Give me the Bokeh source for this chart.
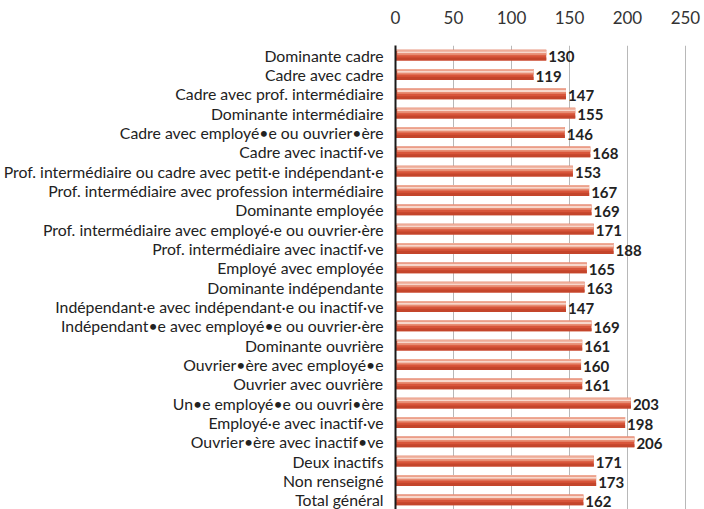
from bokeh.plotting import figure
from bokeh.models import ColumnDataSource, FactorRange, Range1d, FixedTicker
from bokeh.transform import dodge
from bokeh.core.properties import value
from bokeh.embed import file_html
from bokeh.resources import INLINE

categories = [
    "Dominante cadre",
    "Cadre avec cadre",
    "Cadre avec prof. intermédiaire",
    "Dominante intermédiaire",
    "Cadre avec employé•e ou ouvrier•ère",
    "Cadre avec inactif·ve",
    "Prof. intermédiaire ou cadre avec petit·e indépendant·e",
    "Prof. intermédiaire avec profession intermédiaire",
    "Dominante employée",
    "Prof. intermédiaire avec employé·e ou ouvrier·ère",
    "Prof. intermédiaire avec inactif·ve",
    "Employé avec employée",
    "Dominante indépendante",
    "Indépendant·e avec indépendant·e ou inactif·ve",
    "Indépendant•e avec employé•e ou ouvrier·ère",
    "Dominante ouvrière",
    "Ouvrier•ère avec employé•e",
    "Ouvrier avec ouvrière",
    "Un•e employé•e ou ouvri•ère",
    "Employé·e avec inactif·ve",
    "Ouvrier•ère avec inactif•ve",
    "Deux inactifs",
    "Non renseigné",
    "Total général",
]
values = [130, 119, 147, 155, 146, 168, 153, 167, 169, 171, 188, 165, 163,
          147, 169, 161, 160, 161, 203, 198, 206, 171, 173, 162]
x_ticks = [0, 50, 100, 150, 200, 250]

FONT = "Lato"

src = ColumnDataSource(dict(cat=categories, val=values, lab=[str(v) for v in values]))

p = figure(width=704, height=509, output_backend="svg", toolbar_location=None,
           y_range=FactorRange(factors=list(reversed(categories))),
           x_range=Range1d(0, 263), x_axis_location="above",
           min_border_left=393, min_border_right=4, min_border_top=45,
           min_border_bottom=0)
p.outline_line_color = None
p.background_fill_color = "white"
p.border_fill_color = "white"

p.ygrid.grid_line_color = None
p.xgrid.grid_line_color = "#b8b8b8"
p.xgrid.grid_line_width = 1
p.xaxis.ticker = FixedTicker(ticks=x_ticks)
p.xaxis.axis_line_color = None
p.xaxis.major_tick_line_color = None
p.xaxis.minor_tick_line_color = None
p.xaxis.major_label_text_font = FONT
p.xaxis.major_label_text_font_size = "17px"
p.xaxis.major_label_text_color = "#333333"
p.xaxis.major_label_standoff = 16

p.yaxis.axis_line_color = "#1a1a1a"
p.yaxis.axis_line_width = 2
p.yaxis.major_tick_line_color = None
p.yaxis.minor_tick_line_color = None
p.yaxis.major_label_text_font = FONT
p.yaxis.major_label_text_font_size = "15.8px"
p.yaxis.major_label_text_color = "#222222"
p.yaxis.major_label_standoff = 6

p.hbar(y="cat", left=0, right="val", height=0.56, source=src,
       fill_color="#d8553a", line_color=None)
p.hbar(y=dodge("cat", -0.2, range=p.y_range), left=0, right="val", height=0.16,
       source=src, fill_color="#c4452b", line_color=None)
p.hbar(y=dodge("cat", 0.05, range=p.y_range), left=1.5, right="val", height=0.1,
       source=src, fill_color="#e88c72", line_color=None)
p.hbar(y=dodge("cat", 0.15, range=p.y_range), left=1.5, right="val", height=0.11,
       source=src, fill_color="#f8d8cc", line_color=None)
p.hbar(y=dodge("cat", 0.245, range=p.y_range), left=0, right="val", height=0.07,
       source=src, fill_color="#efab96", line_color=None)

p.text(x="val", y=dodge("cat", -0.08, range=p.y_range), text="lab", source=src,
       x_offset=2, text_baseline="middle", text_align="left",
       text_font=value(FONT), text_font_style="bold", text_font_size="15px",
       text_color="#222222")

open("out.html", "w").write(file_html(p, INLINE))
